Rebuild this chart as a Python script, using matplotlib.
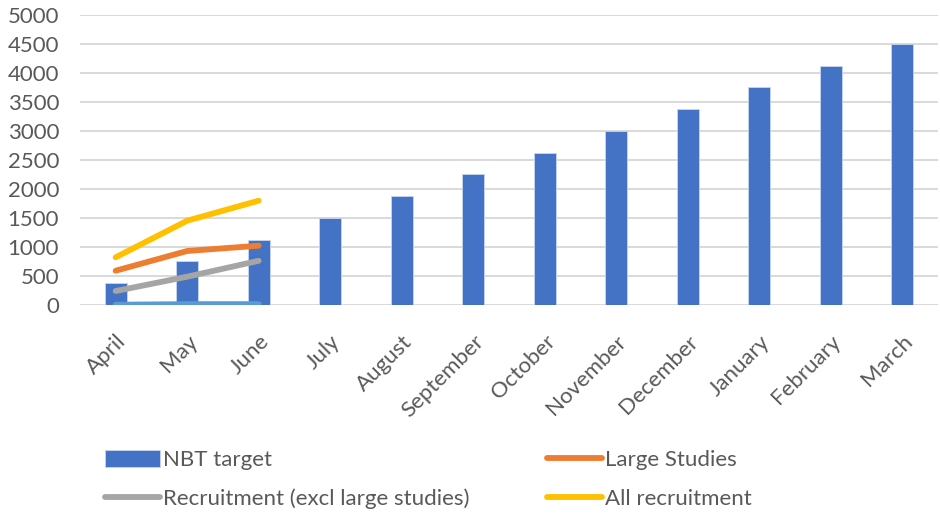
import matplotlib
matplotlib.use("Agg")
import matplotlib.pyplot as plt
import numpy as np

months = ["April", "May", "June", "July", "August", "September", "October",
          "November", "December", "January", "February", "March"]
nbt_target = [375, 750, 1125, 1500, 1875, 2250, 2625, 3000, 3375, 3750, 4125, 4500]
large_studies = [591, 931, 1022]
recruitment_excl = [241, 488, 762]
all_recruitment = [822, 1453, 1798]
other_series = [5, 15, 15]

yticks = [0, 500, 1000, 1500, 2000, 2500, 3000, 3500, 4000, 4500, 5000]

plt.rcParams["font.family"] = ["Lato", "DejaVu Sans"]
text_color = "#595959"
fs = 16

fig = plt.figure(figsize=(9.4, 5.14), dpi=100)
ax = fig.add_axes([0.085, 0.4066, 0.913, 0.5644])

x = np.arange(len(months))
bars = ax.bar(x, nbt_target, width=0.31, color="#4472C4", edgecolor="#C9D6EE",
              linewidth=0.6, zorder=2, label="NBT target")

n = len(large_studies)
lw = 4.2
l_other, = ax.plot(x[:n], other_series, color="#5B9BD5", lw=lw,
                   solid_capstyle="round", zorder=3)
l_large, = ax.plot(x[:n], large_studies, color="#ED7D31", lw=lw,
                   solid_capstyle="round", zorder=3, label="Large Studies")
l_excl, = ax.plot(x[:n], recruitment_excl, color="#A5A5A5", lw=lw,
                  solid_capstyle="round", zorder=3,
                  label="Recruitment (excl large studies)")
l_all, = ax.plot(x[:n], all_recruitment, color="#FFC000", lw=lw,
                 solid_capstyle="round", zorder=3, label="All recruitment")

ax.set_xlim(-0.5, len(months) - 0.5)
ax.set_ylim(0, 5000)
ax.set_yticks(yticks)
ax.set_yticklabels([str(v) for v in yticks])
ax.set_xticks(x)
ax.set_xticklabels(months, rotation=45, ha="right", rotation_mode="anchor")
ax.tick_params(axis="both", length=0, labelsize=fs, colors=text_color)
ax.tick_params(axis="x", pad=19)
ax.tick_params(axis="y", pad=15)

ax.grid(axis="y", color="#D9D9D9", lw=1.4, zorder=0)
ax.set_axisbelow(True)
for s in ax.spines.values():
    s.set_visible(False)

handles = [bars, l_excl, l_large, l_all]
labels = [h.get_label() for h in handles]
leg = fig.legend(handles, labels, ncol=2, loc="lower left",
                 bbox_to_anchor=(0.102, -0.008), frameon=False,
                 fontsize=fs, handlelength=2.5, handleheight=0.8,
                 handletextpad=0.1, columnspacing=3.5, labelspacing=0.85,
                 borderaxespad=0.0)
for t in leg.get_texts():
    t.set_color(text_color)

fig.savefig("out.png", dpi=100)
